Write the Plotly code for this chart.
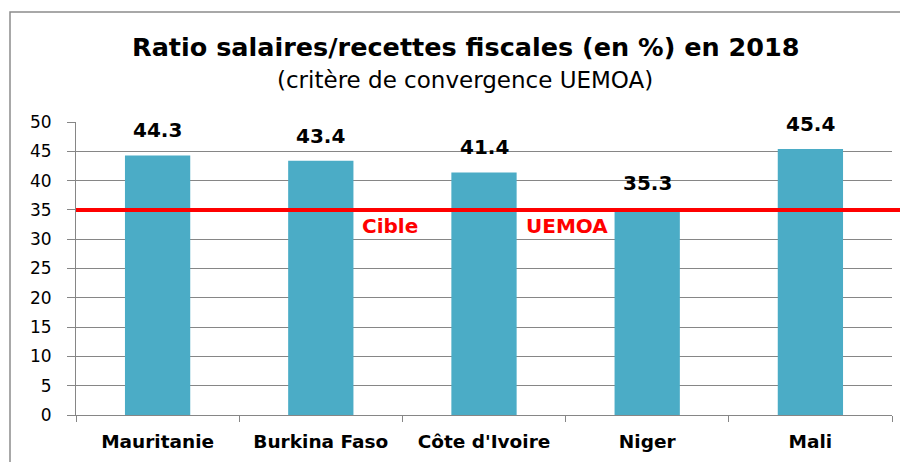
import plotly.graph_objects as go

categories = ["Mauritanie", "Burkina Faso", "Côte d'Ivoire", "Niger", "Mali"]
values = [44.3, 43.4, 41.4, 35.3, 45.4]
target = 35
y_ticks = [0, 5, 10, 15, 20, 25, 30, 35, 40, 45, 50]

W, H = 908, 462
OFF = 8  # page body margin offset in the browser
ml, mr, mt, mb = 76 - OFF, 24, 122 - OFF, 55
pw = W - ml - mr
ph = H - mt - mb

def px_x(p):  # screenshot px -> paper x
    return (p - OFF - ml) / pw

def px_y(p):  # screenshot px -> paper y
    return (H - mb - (p - OFF)) / ph

font = "DejaVu Sans, Verdana, sans-serif"

fig = go.Figure()
fig.add_trace(go.Bar(
    x=categories, y=values,
    marker=dict(color="#4BACC6", line=dict(width=0)),
    width=0.4,
    cliponaxis=False,
))

for c, v in zip(categories, values):
    fig.add_annotation(x=c, y=v, text=f"<b>{v:.1f}</b>", showarrow=False,
                       yanchor="bottom", yshift=11,
                       font=dict(family=font, size=20, color="black"))

# target line extends past the plot area to the right
fig.add_shape(type="line", xref="paper", yref="y",
              x0=0, x1=px_x(903), y0=target, y1=target,
              line=dict(color="#FF0000", width=4))
# chart border
fig.add_shape(type="rect", xref="paper", yref="paper",
              x0=px_x(10), x1=px_x(W + 30),
              y0=px_y(H + 30), y1=px_y(12),
              line=dict(color="#8c8c8c", width=1.5), fillcolor="rgba(0,0,0,0)", layer="below")

fig.add_annotation(x=1.421, y=32.17, text="<b>Cible</b>", showarrow=False,
                   font=dict(family=font, size=20, color="#FF0000"))
fig.add_annotation(x=2.506, y=32.17, text="<b>UEMOA</b>", showarrow=False,
                   font=dict(family=font, size=20, color="#FF0000"))

fig.add_annotation(xref="paper", yref="paper", x=px_x(465), y=px_y(47),
                   text="<b>Ratio salaires/recettes fiscales (en %) en 2018</b>",
                   showarrow=False, xanchor="center", yanchor="middle",
                   font=dict(family=font, size=25.5, color="black"))
fig.add_annotation(xref="paper", yref="paper", x=px_x(465), y=px_y(80),
                   text="(critère de convergence UEMOA)",
                   showarrow=False, xanchor="center", yanchor="middle",
                   font=dict(family=font, size=23, color="black"))

fig.update_layout(
    width=W, height=H,
    margin=dict(l=ml, r=mr, t=mt, b=mb),
    paper_bgcolor="white", plot_bgcolor="white",
    showlegend=False,
)
fig.update_xaxes(
    type="category",
    tickson="boundaries", ticks="outside", ticklen=6, tickcolor="#868686",
    showline=True, linecolor="#868686", linewidth=1,
    tickfont=dict(family=font, size=18.5, color="black", weight="bold"),
    ticklabelstandoff=10,
    showgrid=False,
)
fig.update_yaxes(
    range=[0, 50], tickvals=y_ticks,
    ticks="outside", ticklen=8, tickcolor="#868686",
    showline=True, linecolor="#868686", linewidth=1,
    showgrid=True, gridcolor="#868686", gridwidth=1,
    tickfont=dict(family=font, size=17, color="black"),
    ticklabelstandoff=12,
    zeroline=False,
)

fig.write_html("out.html")
